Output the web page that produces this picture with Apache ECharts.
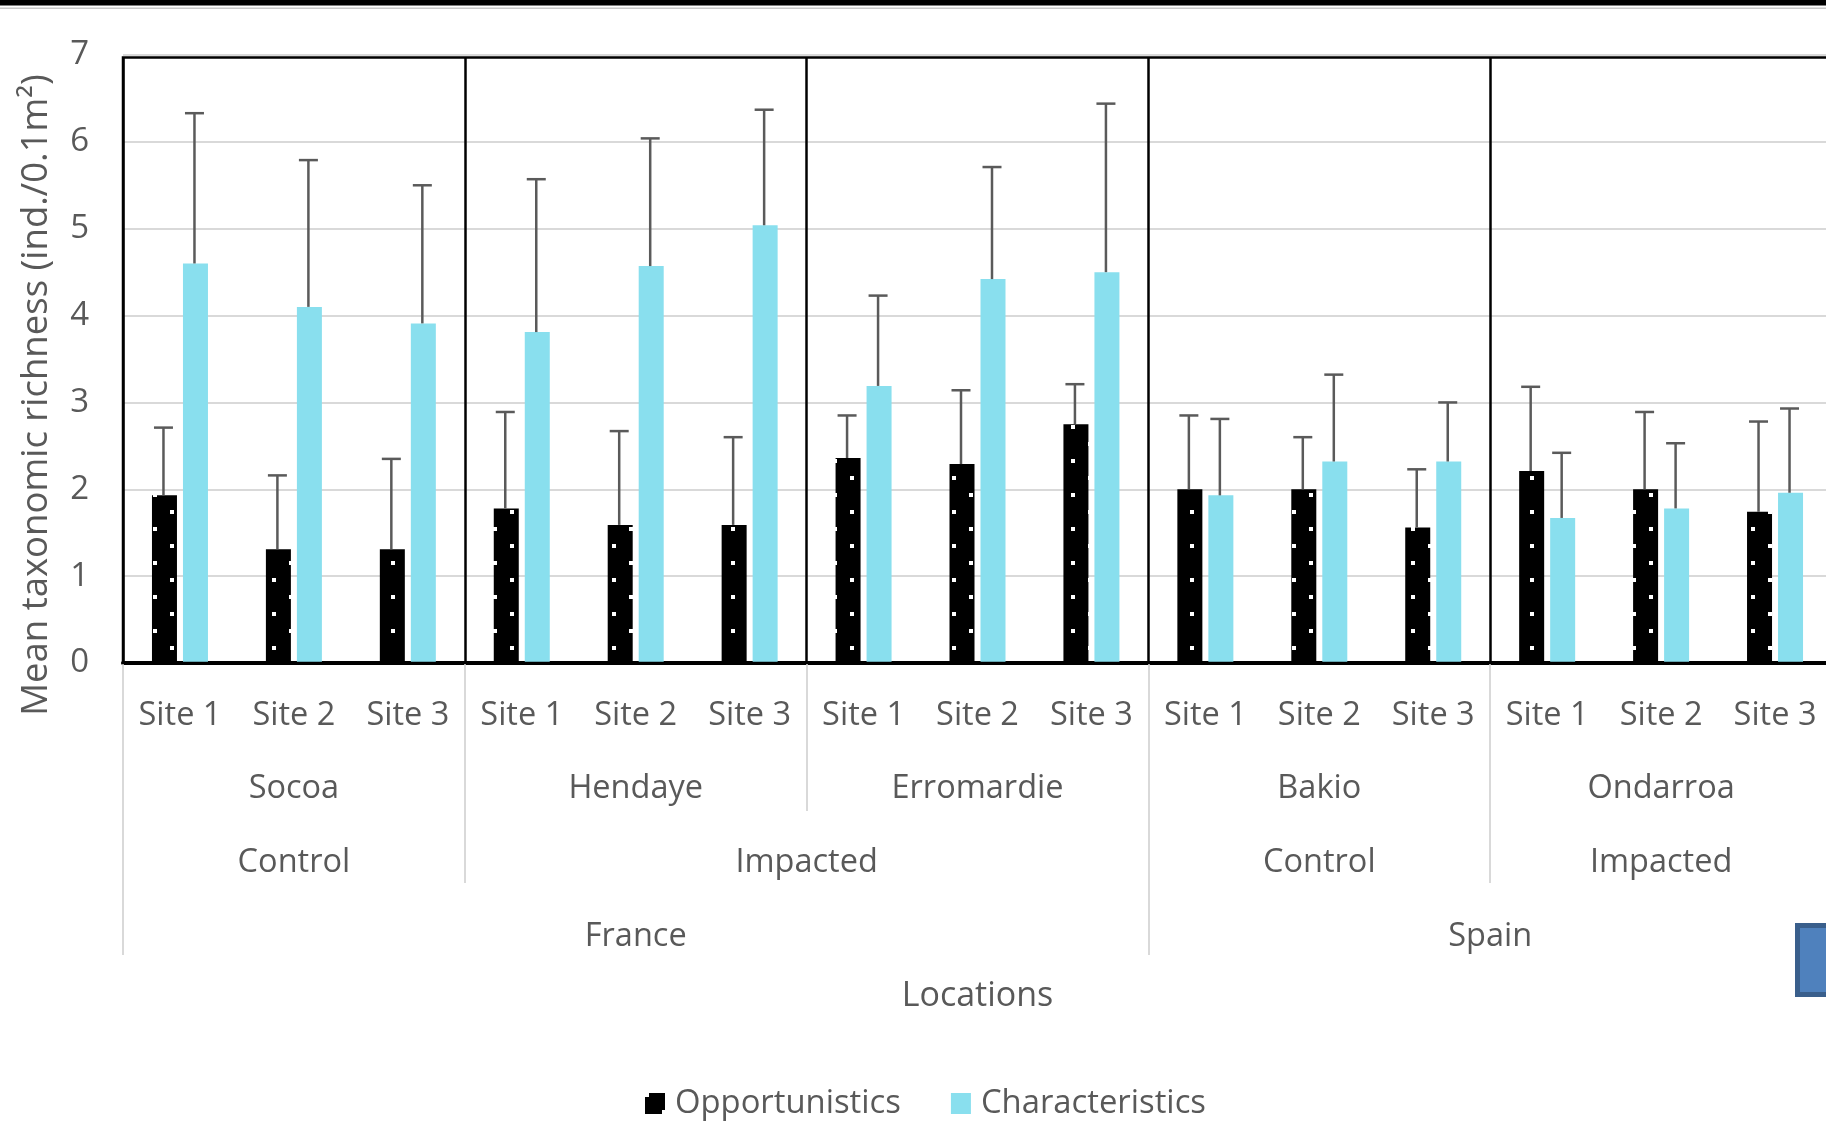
<!DOCTYPE html>
<html>
<head>
<meta charset="utf-8">
<title>Mean taxonomic richness</title>
<script src="https://cdn.jsdelivr.net/npm/echarts@6/dist/echarts.min.js"></script>
<style>
  html, body { margin: 0; padding: 0; background: #fff; }
  #chart { width: 1826px; height: 1130px; }
</style>
</head>
<body>
<div id="chart"></div>
<script>
  // categories
  const sites = ['Site 1', 'Site 2', 'Site 3', 'Site 1', 'Site 2', 'Site 3', 'Site 1', 'Site 2', 'Site 3',
                 'Site 1', 'Site 2', 'Site 3', 'Site 1', 'Site 2', 'Site 3'];
  const locations = ['Socoa', 'Hendaye', 'Erromardie', 'Bakio', 'Ondarroa'];
  const treatments = ['Control', 'Impacted', 'Control', 'Impacted'];
  const treatmentSpan = [3, 6, 3, 3];   // number of sites in each group
  const countries = ['France', 'Spain'];
  const countrySpan = [9, 6];

  // means and standard deviations
  const oppMean = [1.93, 1.31, 1.31, 1.78, 1.59, 1.59, 2.36, 2.29, 2.75, 2.00, 2.00, 1.56, 2.21, 2.00, 1.74];
  const oppSd   = [0.78, 0.85, 1.04, 1.11, 1.08, 1.01, 0.49, 0.85, 0.46, 0.85, 0.60, 0.67, 0.97, 0.89, 1.04];
  const charMean = [4.60, 4.10, 3.91, 3.81, 4.57, 5.04, 3.19, 4.42, 4.50, 1.93, 2.32, 2.32, 1.67, 1.78, 1.96];
  const charSd   = [1.73, 1.69, 1.59, 1.76, 1.47, 1.33, 1.04, 1.29, 1.94, 0.88, 1.00, 0.68, 0.75, 0.75, 0.97];

  const yTicks = [0, 1, 2, 3, 4, 5, 6, 7];

  const TEXT = '#595959';
  const FONT = "'Open Sans', sans-serif";
  const BAR_W = 25;
  const BAR_GAP = 6;

  // group boundaries / label centres in "site" units
  function spans(sizes) {
    let b = [0], c = [], acc = 0;
    sizes.forEach(s => { c.push(acc + s / 2); acc += s; b.push(acc); });
    return {bounds: b, centers: c};
  }
  const tr = spans(treatmentSpan);
  const co = spans(countrySpan);

  // dotted fill for the black bars
  const pat = document.createElement('canvas');
  pat.width = 34; pat.height = 34;
  const pc = pat.getContext('2d');
  pc.fillStyle = '#000'; pc.fillRect(0, 0, 34, 34);
  pc.fillStyle = '#fff';
  pc.fillRect(0, 0, 4, 4);
  pc.fillRect(17, 17, 4, 4);

  let myChart = echarts.init(document.getElementById('chart'));

  function errData(mean, sd, side) {
    return mean.map((m, i) => [i, m, m + sd[i], side]);
  }

  function renderErr(params, api) {
    let i = api.value(0);
    let base = api.coord([i, api.value(1)]);
    let top = api.coord([i, api.value(2)]);
    let x = base[0] + api.value(3) * (BAR_W + BAR_GAP) / 2 - 1;
    let st = {stroke: '#5a5a5a', lineWidth: 2.5};
    return {
      type: 'group',
      children: [
        {type: 'line', shape: {x1: x, y1: base[1], x2: x, y2: top[1]}, style: st},
        {type: 'line', shape: {x1: x - 9.5, y1: top[1], x2: x + 9.5, y2: top[1]}, style: st}
      ]
    };
  }

  const lblStyle = {color: TEXT, fontSize: 32.5, fontFamily: FONT};
  const grayTick = {color: '#d9d9d9', width: 2};

  myChart.setOption({
    animation: false,
    textStyle: {fontFamily: FONT},
    graphic: [
      {type: 'rect', shape: {x: 0, y: 0, width: 1826, height: 5.5}, style: {fill: '#000'}},
      {type: 'rect', shape: {x: 0, y: 7.5, width: 1826, height: 1.5}, style: {fill: '#c8c8c8'}},
      {type: 'rect', shape: {x: 1797.5, y: 925.5, width: 40, height: 69}, style: {fill: '#4f81bd', stroke: '#3a5f8c', lineWidth: 5}}
    ],
    grid: [
      {left: 123, top: 55, width: 1709, height: 608, outerBoundsMode: 'none'},
      {left: 123, top: 57.5, width: 1709, height: 605.5, outerBoundsMode: 'none',
       show: true, borderColor: '#000', borderWidth: 2.5, z: 4}
    ],
    legend: {
      data: ['Opportunistics', 'Characteristics'],
      left: 645, top: 1087, padding: 0,
      icon: 'rect', itemWidth: 20, itemHeight: 21, itemGap: 50,
      textStyle: {color: TEXT, fontSize: 32.8, fontFamily: FONT, padding: [0, 0, 0, 5]}
    },
    xAxis: [
      {
        type: 'category', gridIndex: 0, position: 'bottom', data: sites,
        axisLine: {lineStyle: {color: '#000', width: 4}},
        axisTick: {show: false},
        axisLabel: Object.assign({margin: 36, interval: 0}, lblStyle)
      },
      {
        type: 'category', gridIndex: 1, position: 'bottom', data: locations, z: 3,
        axisLine: {show: false},
        axisTick: {show: true, length: 148, lineStyle: grayTick},
        splitLine: {show: true, lineStyle: {color: '#000', width: 2.5}},
        axisLabel: Object.assign({margin: 109, interval: 0}, lblStyle)
      },
      {
        type: 'value', gridIndex: 1, position: 'bottom', min: 0, max: sites.length,
        axisLine: {show: false},
        splitLine: {show: false},
        axisTick: {show: true, customValues: tr.bounds, length: 220, lineStyle: grayTick},
        axisLabel: Object.assign({
          margin: 183, customValues: tr.centers,
          formatter: v => treatments[tr.centers.indexOf(v)]
        }, lblStyle)
      },
      {
        type: 'value', gridIndex: 1, position: 'bottom', min: 0, max: sites.length,
        axisLine: {show: false},
        splitLine: {show: false},
        axisTick: {show: true, customValues: co.bounds, length: 292, lineStyle: grayTick},
        axisLabel: Object.assign({
          margin: 257, customValues: co.centers,
          formatter: v => countries[co.centers.indexOf(v)]
        }, lblStyle),
        name: 'Locations', nameLocation: 'middle', nameGap: 316,
        nameTextStyle: {color: TEXT, fontSize: 34, fontFamily: FONT}
      }
    ],
    yAxis: [
      {
        type: 'value', gridIndex: 0, min: yTicks[0], max: yTicks[yTicks.length - 1], interval: 1,
        axisLine: {show: false},
        axisTick: {show: false},
        splitLine: {lineStyle: {color: '#d9d9d9', width: 2}},
        axisLabel: {margin: 34, color: TEXT, fontSize: 33, fontFamily: FONT, padding: [6, 0, 0, 0]},
        name: 'Mean taxonomic richness (ind./0.1m²)',
        nameLocation: 'middle', nameGap: 68,
        nameTextStyle: {color: TEXT, fontSize: 36.5, fontFamily: FONT, padding: [0, 72, 0, 0]}
      },
      {type: 'value', gridIndex: 1, min: 0, max: 1, show: false}
    ],
    series: [
      {
        name: 'Opportunistics', type: 'bar', xAxisIndex: 0, yAxisIndex: 0,
        barWidth: BAR_W, barGap: (BAR_GAP / BAR_W * 100) + '%',
        itemStyle: {color: {image: pat, repeat: 'repeat'}},
        data: oppMean
      },
      {
        name: 'Characteristics', type: 'bar', xAxisIndex: 0, yAxisIndex: 0,
        barWidth: BAR_W,
        itemStyle: {color: '#89dfee'},
        data: charMean
      },
      {
        name: 'oppErr', type: 'custom', xAxisIndex: 0, yAxisIndex: 0, z: 5,
        renderItem: renderErr, data: errData(oppMean, oppSd, -1), silent: true
      },
      {
        name: 'charErr', type: 'custom', xAxisIndex: 0, yAxisIndex: 0, z: 5,
        renderItem: renderErr, data: errData(charMean, charSd, 1), silent: true
      }
    ]
  });
</script>
</body>
</html>
